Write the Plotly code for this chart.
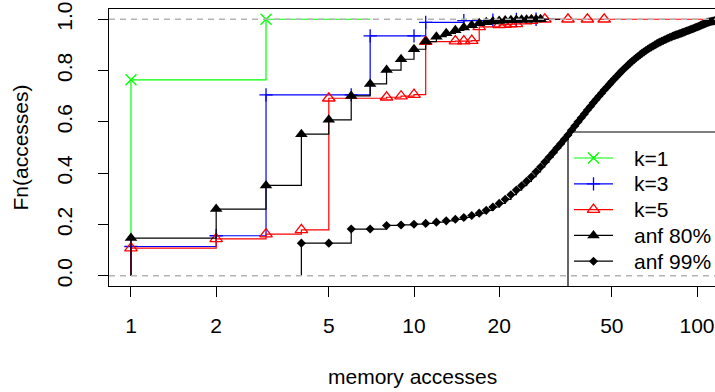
import plotly.graph_objects as go

W, H = 715, 392
ML, MR, MT, MB = 109, 0, 9, 106

# ---------------- data ----------------
k1_x = [1, 3]
k1_y = [0.764, 1.0]

k3_x = [1, 2, 3, 6, 7, 10, 11, 15, 19, 23, 27]
k3_y = [0.114, 0.156, 0.705, 0.705, 0.935, 0.935, 0.988, 0.995, 0.997, 0.999, 1.0]

k5_x = [1, 2, 3, 4, 5, 8, 9, 10, 11, 14, 15, 16, 17, 20, 21, 22, 23, 26, 29, 35, 41, 47]
k5_y = [0.108, 0.144, 0.162, 0.179, 0.692, 0.696, 0.700, 0.706, 0.913, 0.915, 0.915,
        0.917, 0.970, 0.978, 0.979, 0.981, 0.982, 0.995, 1.0, 1.0, 1.0, 1.0]

a80_x = [1, 2, 3, 4, 5, 6, 7, 8, 9, 10, 11, 12, 13, 14, 15, 16, 17, 18, 19, 20,
         21, 22, 23, 24, 25, 26, 27, 28]
a80_y = [0.147, 0.260, 0.352, 0.552, 0.608, 0.701, 0.748, 0.802, 0.844, 0.883,
         0.913, 0.932, 0.945, 0.957, 0.968, 0.977, 0.984, 0.988, 0.991, 0.993,
         0.995, 0.996, 0.997, 0.998, 0.998, 0.999, 0.999, 1.0]

a99_x = [4, 5, 6, 7, 8, 9, 10, 11, 12, 13, 14, 15, 16, 17, 18, 19, 20, 21, 22, 23,
         24, 25, 26, 27, 28, 29, 30, 31, 32, 33, 34, 35, 36, 37, 38, 39, 40, 41, 42, 43,
         44, 45, 46, 47, 48, 49, 50, 51, 52, 53, 54, 55, 56, 57, 58, 59, 60, 61, 62, 63,
         64, 65, 66, 67, 68, 69, 70, 71, 72, 73, 74, 75, 76, 77, 78, 79, 80, 81, 82, 83,
         84, 85, 86, 87, 88, 89, 90, 91, 92, 93, 94, 95, 96, 97, 98, 99, 100, 101, 102, 103,
         104, 105, 106, 107, 108, 109, 110, 111, 112, 113, 114, 115, 116, 117, 118, 119, 120, 121]
a99_y = [0.127, 0.127, 0.182, 0.182, 0.196, 0.198, 0.201, 0.204, 0.209, 0.214,
         0.220, 0.227, 0.235, 0.244, 0.255, 0.268, 0.282, 0.298, 0.316, 0.334,
         0.351, 0.368, 0.386, 0.405, 0.424, 0.443, 0.462, 0.480, 0.498, 0.515,
         0.532, 0.549, 0.567, 0.584, 0.600, 0.616, 0.631, 0.646, 0.660, 0.674,
         0.687, 0.700, 0.712, 0.724, 0.735, 0.746, 0.757, 0.767, 0.777, 0.787,
         0.796, 0.805, 0.813, 0.821, 0.829, 0.836, 0.843, 0.850, 0.856, 0.862,
         0.868, 0.873, 0.878, 0.883, 0.888, 0.892, 0.896, 0.900, 0.904, 0.908,
         0.911, 0.914, 0.917, 0.920, 0.923, 0.926, 0.929, 0.931, 0.934, 0.936,
         0.938, 0.940, 0.942, 0.944, 0.946, 0.948, 0.950, 0.952, 0.954, 0.956,
         0.958, 0.960, 0.962, 0.964, 0.966, 0.968, 0.970, 0.972, 0.974, 0.976,
         0.978, 0.980, 0.982, 0.984, 0.986, 0.988, 0.989, 0.990, 0.991, 0.992,
         0.993, 0.994, 0.995, 0.996, 0.997, 0.998, 0.999, 1.0]

# right end of each step function's final horizontal segment
ext_end = {"k=1": 7, "k=3": 31, "k=5": 105, "anf 80%": 33, "anf 99%": 1000}

x_ticks = [1, 2, 5, 10, 20, 50, 100]
x_ticktext = ["1", "2", "5", "10", "20", "50", "100"]
y_ticks = [0, 0.2, 0.4, 0.6, 0.8, 1.0]
y_ticktext = ["0.0", "0.2", "0.4", "0.6", "0.8", "1.0"]

series = [
    ("k=1", k1_x, k1_y, "#00FF00",
     dict(symbol="x-thin-open", size=11, color="#00FF00", line=dict(width=1.3, color="#00FF00"))),
    ("k=3", k3_x, k3_y, "#0000FF",
     dict(symbol="cross-thin-open", size=9.5, color="#0000FF", line=dict(width=1.3, color="#0000FF"))),
    ("k=5", k5_x, k5_y, "#FF0000",
     dict(symbol="triangle-up-open", size=11, color="#FF0000", line=dict(width=1.3, color="#FF0000"))),
    ("anf 80%", a80_x, a80_y, "#000000",
     dict(symbol="triangle-up", size=11, color="#000000", line=dict(width=0))),
    ("anf 99%", a99_x, a99_y, "#000000",
     dict(symbol="diamond", size=7, color="#000000", line=dict(width=0))),
]

FONT = "Liberation Sans, Arial, Helvetica, sans-serif"
fig = go.Figure()

for name, xs, ys, col, mk in series:
    lx = [xs[0]] + xs + [ext_end[name]]
    ly = [0] + ys + [ys[-1]]
    fig.add_trace(go.Scatter(x=lx, y=ly, mode="lines", line=dict(color=col, width=1.2, shape="hv"),
                             showlegend=False, hoverinfo="skip"))
    fig.add_trace(go.Scatter(x=xs, y=ys, mode="markers", marker=mk, showlegend=False, name=name))

# ---------------- legend (drawn in a pixel-space overlay) ----------------
leg_y = [158, 183.8, 209.6, 235.4, 261.2]
for (name, xs, ys, col, mk), yy in zip(series, leg_y):
    fig.add_trace(go.Scatter(x=[574, 613], y=[yy, yy], mode="lines", line=dict(color=col, width=1.2),
                             xaxis="x2", yaxis="y2", showlegend=False, hoverinfo="skip"))
    fig.add_trace(go.Scatter(x=[593.5], y=[yy], mode="markers", marker=mk,
                             xaxis="x2", yaxis="y2", showlegend=False, hoverinfo="skip"))
    fig.add_annotation(x=632, y=yy, xref="x2", yref="y2", text=name, showarrow=False,
                       xanchor="left", yanchor="middle", font=dict(family=FONT, size=21, color="black"))

shapes = [
    dict(type="rect", xref="x2", yref="y2", x0=568, x1=800, y0=132, y1=300,
         line=dict(color="black", width=1.2), fillcolor="rgba(0,0,0,0)", layer="above"),
    dict(type="line", xref="paper", yref="y", x0=0, x1=1, y0=0, y1=0,
         line=dict(color="#B3B3B3", width=1.3, dash="6px,5px"), layer="above"),
    dict(type="line", xref="paper", yref="y", x0=0, x1=1, y0=1, y1=1,
         line=dict(color="#B3B3B3", width=1.3, dash="6px,5px"), layer="above"),
]

pw = W - ML - MR
ph = H - MT - MB
fig.add_annotation(x=(412 - ML) / pw, y=(H - MB - 376) / ph, xref="paper", yref="paper",
                   text="memory accesses", showarrow=False, xanchor="center", yanchor="middle",
                   font=dict(family=FONT, size=21, color="black"))
fig.add_annotation(x=(20 - ML) / pw, y=0.5, xref="paper", yref="paper", textangle=-90,
                   text="Fn(accesses)", showarrow=False, xanchor="center", yanchor="middle",
                   font=dict(family=FONT, size=21, color="black"))

fig.update_layout(
    width=W, height=H,
    margin=dict(l=ML, r=MR, t=MT, b=MB, pad=0),
    paper_bgcolor="white", plot_bgcolor="white",
    font=dict(family=FONT, size=21, color="black"),
    showlegend=False,
    shapes=shapes,
    xaxis=dict(type="log", range=[-0.0777, 2.0636], tickvals=x_ticks, ticktext=x_ticktext,
               ticks="outside", ticklen=10, tickwidth=1.2, tickcolor="black",
               showline=True, linecolor="black", linewidth=1.3, mirror=True,
               showgrid=False, zeroline=False, automargin=False, ticklabelstandoff=11),
    yaxis=dict(range=[-0.04, 1.04], tickvals=y_ticks, ticktext=y_ticktext,
               ticks="outside", ticklen=10, tickwidth=1.2, tickcolor="black", tickangle=-90,
               showline=True, linecolor="black", linewidth=1.3, mirror=False,
               showgrid=False, zeroline=False, automargin=False, ticklabelstandoff=17),
    xaxis2=dict(overlaying="x", range=[ML, W - MR], visible=False, anchor="y2"),
    yaxis2=dict(overlaying="y", range=[H - MB, MT], visible=False, anchor="x2"),
)

fig.write_html("out.html", config={"displayModeBar": False},
               post_script="document.body.style.margin='0px';document.body.style.padding='0px';")
